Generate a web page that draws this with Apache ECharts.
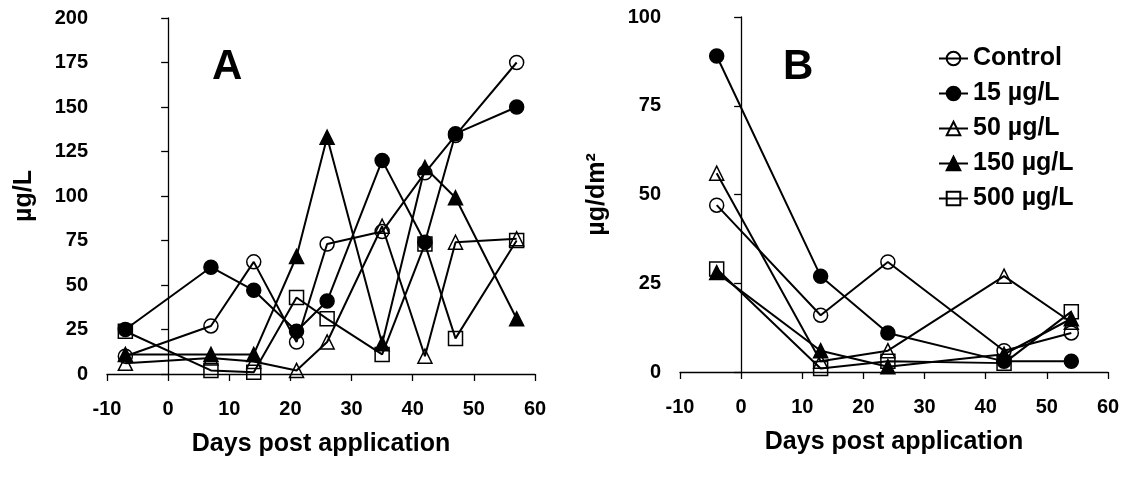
<!DOCTYPE html>
<html>
<head>
<meta charset="utf-8">
<script src="https://cdn.jsdelivr.net/npm/echarts@6/dist/echarts.min.js"></script>
<style>
html,body{margin:0;padding:0;background:#fff;}
#c{width:1123px;height:484px;}
</style>
</head>
<body>
<div id="c"></div>
<script>
// ---- Data ----
const seriesNames = ['Control', '15 µg/L', '50 µg/L', '150 µg/L', '500 µg/L'];
// Panel A (µg/L in water)
const daysA = [-7, 7, 14, 21, 26, 35, 42, 47, 57];
const controlA = [10, 27, 63, 18, 73, 80, 113, 134, 175];
const c15A = [25, 60, 47, 24, 41, 120, 74, 135, 150];
const c50A = [6, 9, 7, 2, 18, 83, 10, 74, 76];
const c150A = [11, 11, 11, 66, 133, 17, 116, 99, 31];
const c500A = [24, 2, 1, 43, 31, 11, 73, 20, 75];
// Panel B (µg/dm²)
const daysB = [-4, 13, 24, 43, 54];
const controlB = [47, 16, 31, 6, 11];
const c15B = [89, 27, 11, 3, 3];
const c50B = [56, 3, 6, 27, 14];
const c150B = [28, 6, 1.5, 5, 15];
const c500B = [29, 1, 3, 2.5, 17];
const xTicks = [-10, 0, 10, 20, 30, 40, 50, 60];

const FONT = "'Liberation Sans', Arial, Helvetica, sans-serif";
const zip = (xs, ys) => xs.map((x, i) => [x, ys[i]]);

const styles = [
  {symbol: 'circle', fill: 'rgba(255,255,255,0)', z: 3},
  {symbol: 'circle', fill: '#000', z: 6},
  {symbol: 'triangle', fill: 'rgba(255,255,255,0)', z: 4},
  {symbol: 'triangle', fill: '#000', z: 5},
  {symbol: 'rect', fill: 'rgba(255,255,255,0)', z: 2}
];

function mk(name, idx, data, gi) {
  const s = styles[idx];
  return {
    name: name, type: 'line', xAxisIndex: gi, yAxisIndex: gi * 2,
    data: data, symbol: s.symbol, symbolSize: 14, z: s.z,
    showAllSymbol: true, animation: false,
    lineStyle: {color: '#000', width: 2},
    itemStyle: {color: s.fill, borderColor: '#000', borderWidth: 1.5}
  };
}

const dataA = [controlA, c15A, c50A, c150A, c500A];
const dataB = [controlB, c15B, c50B, c150B, c500B];
const series = [];
seriesNames.forEach((n, i) => series.push(mk(n, i, zip(daysA, dataA[i]), 0)));
seriesNames.forEach((n, i) => series.push(mk(n, i, zip(daysB, dataB[i]), 1)));

const tickLabel = {fontFamily: FONT, fontWeight: 'bold', fontSize: 20, color: '#000'};
const nameStyle = {fontFamily: FONT, fontWeight: 'bold', fontSize: 25, color: '#000'};

function xAxisCfg(gi) {
  return {
    type: 'value', gridIndex: gi, min: xTicks[0], max: xTicks[xTicks.length - 1], interval: 10,
    splitLine: {show: false},
    axisLine: {show: true, onZero: true, lineStyle: {color: '#000', width: 1.3}},
    axisTick: {show: true, inside: false, length: 7, lineStyle: {color: '#000', width: 1.3}},
    axisLabel: Object.assign({margin: 25}, tickLabel),
    name: 'Days post application', nameLocation: 'middle', nameGap: 58, nameTextStyle: nameStyle
  };
}
function yAxesCfg(gi, max, interval, title) {
  return [
    {
      type: 'value', gridIndex: gi, min: 0, max: max, interval: interval, position: 'left',
      splitLine: {show: false},
      axisLine: {show: true, onZero: true, lineStyle: {color: '#000', width: 1.3}},
      axisTick: {show: true, inside: false, length: 7, lineStyle: {color: '#000', width: 1.3}},
      axisLabel: {show: false}
    },
    {
      type: 'value', gridIndex: gi, min: 0, max: max, interval: interval, position: 'left',
      splitLine: {show: false},
      axisLine: {show: false, onZero: false},
      axisTick: {show: false},
      axisLabel: Object.assign({margin: 19}, tickLabel),
      name: title, nameLocation: 'middle', nameGap: 70, nameTextStyle: nameStyle
    }
  ];
}

const chart = echarts.init(document.getElementById('c'), null, {renderer: 'canvas'});
chart.setOption({
  backgroundColor: '#fff',
  animation: false,
  grid: [
    {left: 107, width: 428, top: 18, height: 356},
    {left: 680, width: 428, top: 17, height: 355}
  ],
  xAxis: [xAxisCfg(0), xAxisCfg(1)],
  yAxis: yAxesCfg(0, 200, 25, 'µg/L').concat(yAxesCfg(1, 100, 25, 'µg/dm²')),
  legend: {
    data: seriesNames, orient: 'vertical', left: 933, top: 41,
    itemWidth: 29, itemHeight: 17, itemGap: 10,
    textStyle: {fontFamily: FONT, fontWeight: 'bold', fontSize: 25, color: '#000', lineHeight: 25},
    selectedMode: false
  },
  graphic: [
    {type: 'text', left: 212, top: 46, style: {text: 'A', font: "bold 42px " + FONT, fill: '#000'}},
    {type: 'text', left: 783, top: 46, style: {text: 'B', font: "bold 42px " + FONT, fill: '#000'}}
  ],
  series: series
});
</script>
</body>
</html>
